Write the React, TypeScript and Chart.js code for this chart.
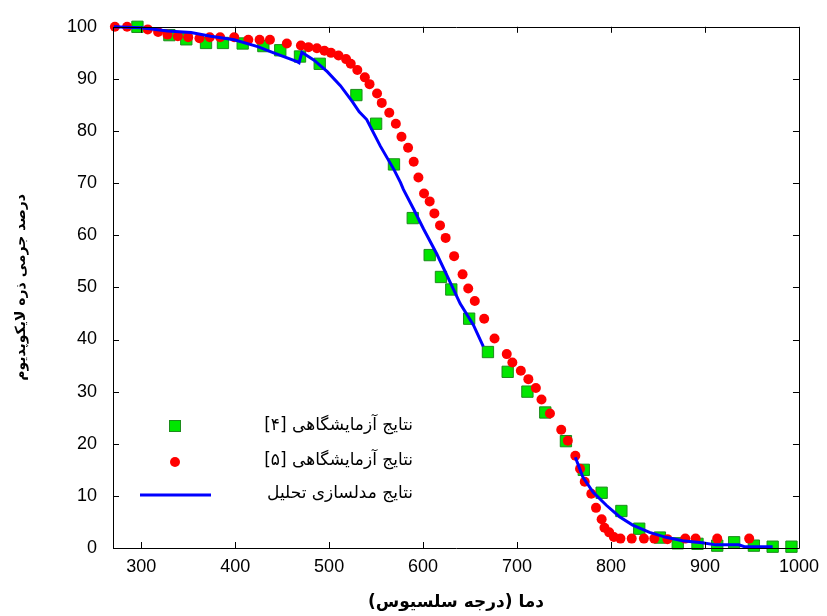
import React, { useEffect, useRef } from "react";
import { Chart, registerables } from "chart.js";

Chart.register(...registerables);

// ---- data ----
const labX = [296, 330, 348, 369, 387, 408, 430, 448, 469, 490, 529, 550, 569, 589, 607, 619, 630, 649, 669, 690, 711, 730, 752, 771, 790, 811, 830, 852, 871, 892, 913, 931, 952, 972, 992];
const labY = [100, 98.4, 97.6, 96.9, 96.9, 96.8, 96.3, 95.5, 94.3, 92.9, 86.9, 81.4, 73.6, 63.3, 56.2, 52.0, 49.6, 44.0, 37.6, 33.8, 30.0, 26.0, 20.5, 15.0, 10.6, 7.1, 3.7, 2.0, 0.9, 0.8, 0.45, 1.1, 0.45, 0.25, 0.25];

const lab5X = [272, 285, 307, 318, 328, 339, 350, 362, 373, 384, 399, 414, 426, 437, 455, 470, 478, 487, 495, 502, 510, 518, 523, 530, 538, 543, 551, 556, 564, 571, 577, 584, 590, 595, 601, 607, 612, 618, 624, 633, 642, 648, 655, 665, 676, 689, 695, 704, 712, 720, 726, 735, 747, 754, 762, 767, 772, 779, 784, 790, 793, 798, 803, 810, 822, 835, 846, 860, 879, 890, 913, 947];
const lab5Y = [100, 100, 99.5, 99, 98.5, 98.2, 98, 97.8, 98, 98, 98, 97.5, 97.5, 97.5, 96.8, 96.4, 96.1, 95.9, 95.4, 95, 94.5, 93.8, 92.9, 91.7, 90.3, 89, 87.2, 85.4, 83.5, 81.4, 78.9, 76.8, 74.1, 71.1, 68, 66.5, 64.2, 61.9, 59.5, 56, 52.5, 49.8, 47.4, 44, 40.2, 37.2, 35.6, 34, 32.4, 30.7, 28.5, 25.8, 22.7, 20.6, 17.7, 15.2, 12.7, 10.4, 7.7, 5.5, 3.9, 3.0, 2.1, 1.8, 1.8, 1.8, 1.8, 1.7, 1.8, 1.8, 1.8, 1.8];

const modelX = [271, 300, 328, 353, 374, 399, 424, 441, 466, 468, 471, 484, 498, 512, 524.5, 532, 540, 554.5, 569, 576, 579, 590, 600.5, 614.6, 627, 639.4, 653.5, 664, 713, 762, 770, 781, 795, 809, 823, 841, 858.5, 876, 897, 911.5, 936, 942, 972];
const modelY: (number | null)[] = [100, 99.8, 99.2, 98.9, 98.2, 97.5, 96.2, 95, 93.3, 93.1, 95.1, 93.6, 91.4, 88.7, 85.7, 83.7, 82.2, 77.1, 72.6, 70.1, 68.8, 65, 61.2, 56.4, 51.7, 46.9, 42.8, 38.7, null, 17.4, 13.6, 10.7, 8.2, 6, 4.4, 3.0, 2.05, 1.4, 1.0, 0.6, 0.6, 0.25, 0.25];

const xTicks = [300, 400, 500, 600, 700, 800, 900, 1000];
const yTicks = [0, 10, 20, 30, 40, 50, 60, 70, 80, 90, 100];

const legendLabels = ["نتایج آزمایشگاهی [۴]", "نتایج آزمایشگاهی [۵]", "نتایج مدلسازی تحلیل"];
const xTitle = "\u200Fدما (درجه سلسیوس)\u200F";
const yTitle = "درصد جرمی ذره لایکوپدیوم";

const GREEN = "#00e600";
const GREEN_BORDER = "#1c8c1c";
const RED = "#ff0000";
const BLUE = "#0000ff";

const framePlugin = {
  id: "frameTicks",
  afterDraw(chart: any) {
    const { ctx, chartArea } = chart;
    const { left, right, top, bottom } = chartArea;
    const xs = chart.scales.x;
    const ys = chart.scales.y;
    ctx.save();
    ctx.strokeStyle = "#000";
    ctx.lineWidth = 1;
    ctx.beginPath();
    ctx.rect(Math.round(left) + 0.5, Math.round(top) + 0.5, Math.round(right - left), Math.round(bottom - top));
    ctx.stroke();
    const tl = 6;
    ctx.beginPath();
    xTicks.forEach((v) => {
      const px = Math.round(xs.getPixelForValue(v)) + 0.5;
      ctx.moveTo(px, bottom);
      ctx.lineTo(px, bottom - tl);
      ctx.moveTo(px, top);
      ctx.lineTo(px, top + tl);
    });
    yTicks.forEach((v) => {
      const py = Math.round(ys.getPixelForValue(v)) + 0.5;
      ctx.moveTo(left, py);
      ctx.lineTo(left + tl, py);
      ctx.moveTo(right, py);
      ctx.lineTo(right - tl, py);
    });
    ctx.stroke();

    // legend
    const textX = 413;
    const markX = 175;
    const rows = [426, 461, 494];
    ctx.font = '17px "DejaVu Sans"';
    ctx.fillStyle = "#000";
    ctx.textBaseline = "middle";
    ctx.direction = "rtl";
    ctx.textAlign = "right";
    legendLabels.forEach((t, i) => ctx.fillText(t, textX, rows[i]));
    ctx.direction = "ltr";
    // square
    ctx.lineWidth = 1;
    ctx.fillStyle = GREEN;
    ctx.strokeStyle = GREEN_BORDER;
    ctx.fillRect(markX - 5.5, rows[0] - 5.5, 11, 11);
    ctx.strokeRect(markX - 5.5, rows[0] - 5.5, 11, 11);
    // circle
    ctx.fillStyle = RED;
    ctx.beginPath();
    ctx.arc(markX, rows[1] + 1, 5, 0, Math.PI * 2);
    ctx.fill();
    // line
    ctx.strokeStyle = BLUE;
    ctx.lineWidth = 3;
    ctx.beginPath();
    ctx.moveTo(140, rows[2] + 1);
    ctx.lineTo(211, rows[2] + 1);
    ctx.stroke();
    ctx.restore();
  },
};

export default function App() {
  const ref = useRef<HTMLCanvasElement | null>(null);
  useEffect(() => {
    if (!ref.current) return;
    Chart.defaults.font.family = '"Liberation Sans", Arial, sans-serif';
    const chart = new Chart(ref.current, {
      type: "scatter",
      data: {
        datasets: [
          {
            label: legendLabels[2],
            data: modelX.map((x, i) => ({ x, y: modelY[i] })),
            showLine: true,
            spanGaps: false,
            borderColor: BLUE,
            borderWidth: 3,
            pointRadius: 0,
            tension: 0,
            clip: false,
          } as any,
          {
            label: legendLabels[1],
            data: lab5X.map((x, i) => ({ x, y: lab5Y[i] })),
            pointStyle: "circle",
            pointRadius: 5,
            backgroundColor: RED,
            borderColor: RED,
            borderWidth: 0,
            clip: false,
          },
          {
            label: legendLabels[0],
            data: labX.map((x, i) => ({ x, y: labY[i] })),
            pointStyle: "rect",
            pointRadius: 8,
            backgroundColor: GREEN,
            borderColor: GREEN_BORDER,
            borderWidth: 1,
            clip: false,
          },
        ],
      },
      options: {
        responsive: false,
        animation: false,
        layout: { padding: { left: 0, top: 23, right: 27, bottom: 0 } },
        plugins: { legend: { display: false }, tooltip: { enabled: false } },
        scales: {
          x: {
            type: "linear",
            min: 270,
            max: 1000,
            grid: { display: false, drawTicks: false },
            border: { display: false },
            afterBuildTicks: (s: any) => {
              s.ticks = xTicks.map((v) => ({ value: v }));
            },
            afterFit: (s: any) => {
              s.height = 68;
            },
            ticks: { color: "#000", font: { size: 18 }, padding: 8, maxRotation: 0, callback: (v: any) => String(v) },
            title: {
              display: true,
              text: xTitle,
              color: "#000",
              font: { family: '"DejaVu Sans"', size: 17, weight: "bold" },
              padding: { top: 0, bottom: 3 },
            },
          },
          y: {
            type: "linear",
            min: 0,
            max: 100,
            grid: { display: false, drawTicks: false },
            border: { display: false },
            afterBuildTicks: (s: any) => {
              s.ticks = yTicks.map((v) => ({ value: v }));
            },
            afterFit: (s: any) => {
              s.width = 113;
            },
            ticks: { color: "#000", font: { size: 18 }, padding: 16, callback: (v: any) => String(v) },
            title: {
              display: true,
              text: yTitle,
              color: "#000",
              font: { family: '"DejaVu Sans"', size: 14, weight: "bold" },
              padding: { top: 13, bottom: 0 },
            },
          },
        },
      },
      plugins: [framePlugin],
    } as any);
    return () => chart.destroy();
  }, []);
  return (
    <div style={{ position: "fixed", left: 0, top: 0, width: 827, height: 616, background: "#fff" }}>
      <canvas ref={ref} width={827} height={616} />
    </div>
  );
}
